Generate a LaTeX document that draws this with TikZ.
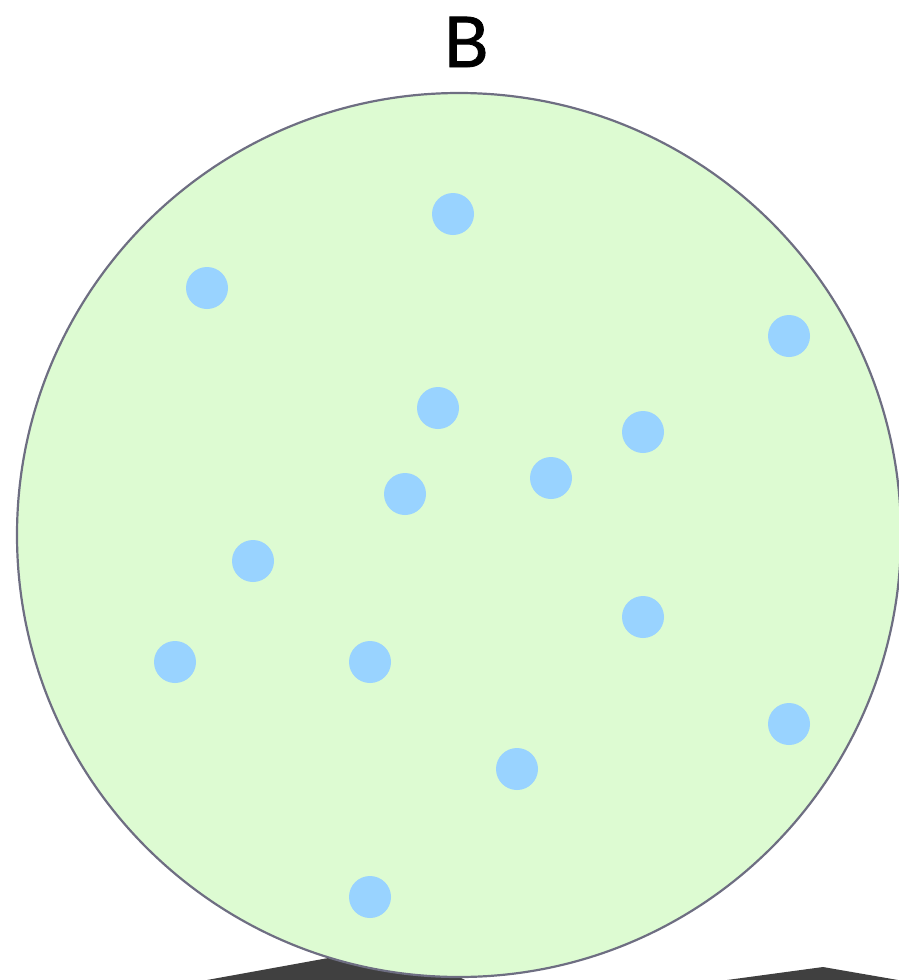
\documentclass[tikz,border=0pt]{standalone}
\usepackage{fontspec}
\setmainfont{Lato}
\newfontfamily\titlefont{Lato}[UprightFeatures={FakeBold=1.2}]
\definecolor{ballfill}{HTML}{DDFBD2}
\definecolor{ballline}{HTML}{6E6E82}
\definecolor{dotblue}{HTML}{99D3FF}
\definecolor{floor}{HTML}{404040}
\begin{document}
\begin{tikzpicture}[x=1pt,y=-1pt,
  dot/.style={circle,fill=dotblue,minimum size=42pt,inner sep=0pt}]
\useasboundingbox (0,0) rectangle (898,980);
\fill[floor] (207,980) -- (400,945) -- (465,980) -- cycle;
\fill[floor] (727,980) -- (823,967) -- (898,980) -- cycle;
\node[circle,draw=ballline,line width=2.2pt,fill=ballfill,minimum size=884pt,inner sep=0pt] (ball) at (459,535) {};
\node[font=\titlefont\fontsize{70}{80}\selectfont,anchor=base] (title) at (466,67) {B};
\foreach \n/\x/\y in {d1/453/214,d2/207/288,d3/789/336,d4/438/408,d5/643/432,d6/551/478,d7/405/494,d8/253/561,d9/643/617,d10/175/662,d11/370/662,d12/789/724,d13/517/769,d14/370/897}
  \node[dot] (\n) at (\x,\y) {};
\end{tikzpicture}
\end{document}
